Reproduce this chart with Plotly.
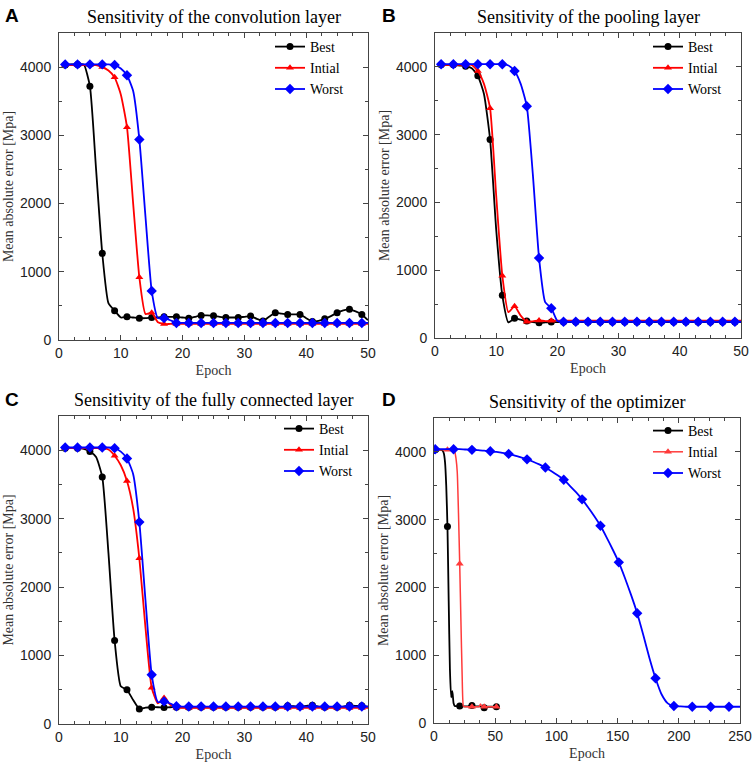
import plotly.graph_objs as go
from plotly.subplots import make_subplots

epochs = list(range(1, 51))

conv_best = [4030, 4040, 4040, 4040, 3720, 2500, 1270, 540, 430, 330,
             340, 330, 320, 320, 330, 330, 340, 340, 340, 330,
             320, 340, 360, 360, 355, 340, 330, 330, 330, 340,
             350, 310, 280, 340, 400, 385, 375, 375, 375, 320,
             270, 280, 310, 350, 400, 435, 450, 420, 375, 290]
conv_initial = [4030, 4030, 4030, 4030, 4030, 4030, 4000, 3950, 3850, 3600,
                3120, 2000, 920, 380, 400, 260, 235, 235, 235, 235,
                235, 235, 235, 235, 235, 235, 235, 235, 235, 235,
                235, 235, 235, 235, 235, 235, 235, 235, 235, 235,
                235, 235, 235, 235, 235, 235, 235, 235, 235, 235]
conv_worst = [4040, 4040, 4040, 4040, 4040, 4040, 4040, 4040, 4030, 3980,
              3880, 3650, 2940, 1800, 720, 320, 320, 290, 250, 250,
              250, 250, 250, 250, 250, 250, 250, 250, 250, 250,
              250, 250, 250, 250, 250, 250, 250, 250, 250, 250,
              250, 250, 250, 250, 250, 250, 250, 250, 250, 250]

pool_best = [4030, 4030, 4030, 4020, 4010, 3980, 3870, 3600, 2930, 1600,
             630, 230, 290, 270, 250, 235, 225, 230, 235, 235,
             235, 235, 235, 235, 235, 235, 235, 235, 235, 235,
             235, 235, 235, 235, 235, 235, 235, 235, 235, 235,
             235, 235, 235, 235, 235, 235, 235, 235, 235, 235]
pool_initial = [4030, 4030, 4030, 4030, 4030, 4030, 3940, 3750, 3390, 2100,
                920, 380, 470, 330, 240, 245, 260, 250, 255, 255,
                255, 255, 255, 255, 255, 255, 255, 255, 255, 255,
                255, 255, 255, 255, 255, 255, 255, 255, 255, 255,
                255, 255, 255, 255, 255, 255, 255, 255, 255, 255]
pool_worst = [4040, 4040, 4040, 4040, 4040, 4040, 4040, 4040, 4040, 4040,
              4040, 4020, 3940, 3750, 3420, 2400, 1180, 530, 440, 250,
              240, 240, 240, 240, 240, 240, 240, 240, 240, 240,
              240, 240, 240, 240, 240, 240, 240, 240, 240, 240,
              240, 240, 240, 240, 240, 240, 240, 240, 240, 240]

fc_best = [4030, 4030, 4030, 4020, 3980, 3900, 3610, 2500, 1220, 550,
           500, 350, 220, 240, 245, 245, 240, 245, 245, 245,
           245, 245, 245, 245, 245, 245, 245, 245, 245, 245,
           245, 245, 245, 245, 245, 245, 265, 260, 255, 265,
           275, 255, 245, 245, 245, 255, 275, 265, 265, 255]
fc_initial = [4030, 4030, 4030, 4030, 4030, 4030, 4030, 4010, 3920, 3780,
              3550, 3150, 2420, 1400, 530, 300, 380, 280, 240, 235,
              235, 235, 235, 235, 235, 235, 235, 235, 235, 235,
              235, 235, 235, 235, 235, 235, 235, 235, 235, 235,
              235, 235, 235, 235, 235, 235, 235, 235, 235, 235]
fc_worst = [4040, 4040, 4040, 4040, 4040, 4040, 4040, 4040, 4030, 3980,
            3880, 3650, 2950, 1800, 720, 320, 330, 300, 260, 255,
            255, 255, 255, 255, 255, 255, 255, 255, 255, 255,
            255, 255, 255, 255, 255, 255, 255, 255, 255, 255,
            255, 255, 255, 255, 255, 255, 255, 255, 255, 255]

opt_epochs = list(range(1, 52))
opt_best = [4030, 4030, 4030, 4030, 4030, 4030, 4020, 3980, 3850, 3500,
            2900, 1800, 800, 380, 470, 290, 250, 250, 250, 250,
            250, 245, 245, 245, 245, 245, 245, 245, 255, 265,
            260, 245, 245, 245, 245, 245, 245, 245, 245, 245,
            225, 240, 240, 240, 240, 240, 240, 240, 240, 240, 240]
opt_initial = [4030, 4030, 4030, 4030, 4030, 4030, 4030, 4030, 4030, 4030,
               4030, 4030, 4030, 4030, 4030, 4030, 4000, 3900, 3700, 3100,
               2350, 1500, 700, 250, 240, 240, 240, 240, 240, 240,
               240, 240, 240, 240, 240, 240, 240, 280, 250, 240,
               240, 240, 240, 240, 240, 240, 240, 240, 240, 240, 240]
opt_worst_epochs = list(range(1, 250, 5)) + [250]
opt_worst = [4040, 4040, 4040, 4040, 4040, 4035, 4030, 4025, 4020, 4010,
             4000, 3985, 3970, 3945, 3920, 3890, 3855, 3815, 3770, 3715,
             3655, 3590, 3500, 3405, 3300, 3180, 3050, 2910, 2740, 2560,
             2370, 2140, 1890, 1620, 1300, 960, 660, 420, 290, 250,
             245, 240, 240, 240, 240, 240, 240, 240, 240, 240, 240]

titles = ["Sensitivity of the convolution layer", "Sensitivity of the pooling layer",
          "Sensitivity of the fully connected layer", "Sensitivity of the optimizer"]
letters = ["A", "B", "C", "D"]
names = ["Best", "Intial", "Worst"]

W, H = 754, 767
serif = "Liberation Serif"
sans = "Liberation Sans"


def add_series(fig, x, y, step, name, color, symbol, size, width, row, col, legend_name):
    fig.add_trace(go.Scatter(x=x, y=y, mode="lines", showlegend=False, hoverinfo="skip",
                             line=dict(color=color, width=width, shape="spline", smoothing=0.5)),
                  row=row, col=col)
    fig.add_trace(go.Scatter(x=x[::step], y=y[::step], mode="markers", showlegend=False,
                             marker=dict(color=color, symbol=symbol, size=size)),
                  row=row, col=col)
    fig.add_trace(go.Scatter(x=[None], y=[None], mode="lines+markers", name=name, legend=legend_name,
                             line=dict(color=color, width=width),
                             marker=dict(color=color, symbol=symbol, size=size)),
                  row=row, col=col)


fig = make_subplots(rows=2, cols=2)

panels = [
    (1, 1, epochs, [conv_best, conv_initial, conv_worst], "legend"),
    (1, 2, epochs, [pool_best, pool_initial, pool_worst], "legend2"),
    (2, 1, epochs, [fc_best, fc_initial, fc_worst], "legend3"),
]
colors = ["black", "#ff0000", "#0000ff"]
symbols = ["circle", "triangle-up", "diamond"]
sizes = [7, 7, 8]

for row, col, xs, series, lg in panels:
    for i in range(3):
        add_series(fig, xs, series[i], 2, names[i], colors[i], symbols[i], sizes[i], 1.8, row, col, lg)

add_series(fig, opt_epochs, opt_best, 10, "Best", "black", "circle", 7, 1.8, 2, 2, "legend4")
add_series(fig, opt_epochs, opt_initial, 10, "Intial", "#ff3b3b", "triangle-up", 7, 1.5, 2, 2, "legend4")
add_series(fig, opt_worst_epochs, opt_worst, 3, "Worst", "#0000ff", "diamond", 8, 1.8, 2, 2, "legend4")

# plot areas in pixels: left, right, top, bottom
boxes = [(59, 368, 33, 340), (435, 741, 33, 338), (59, 368, 416, 724), (434, 740, 418, 723)]
legend_pos = [(270, 31), (648, 31), (279, 413), (648, 415)]
letter_pos = [(3, 3), (380, 3), (3, 387), (380, 387)]

axis_common = dict(showline=True, linecolor="#444", linewidth=1, mirror="allticks", ticks="inside",
                   ticklen=5, tickcolor="#444", showgrid=False, zeroline=False, automargin=False,
                   tickfont=dict(family=sans, size=14, color="#222"))

for k in range(4):
    l, r, t, b = boxes[k]
    xn = "xaxis" if k == 0 else "xaxis%d" % (k + 1)
    yn = "yaxis" if k == 0 else "yaxis%d" % (k + 1)
    xmax = 250 if k == 3 else 50
    fig.layout[xn].update(domain=[l / W, r / W], range=[0, xmax], dtick=xmax / 5, tick0=0,
                          minor=dict(dtick=xmax / 20, ticks="inside", ticklen=3, tickcolor="#444"),
                          title=dict(text="Epoch", font=dict(family=serif, size=14, color="#333"), standoff=5),
                          **axis_common)
    fig.layout[yn].update(domain=[1 - b / H, 1 - t / H], range=[0, 4500], dtick=1000, tick0=0,
                          ticklabelstandoff=4,
                          minor=dict(dtick=500, ticks="inside", ticklen=3, tickcolor="#444"),
                          title=dict(text="Mean absolute error [Mpa]", font=dict(family=serif, size=14, color="#333"),
                                     standoff=3),
                          **axis_common)
    xr = "x" if k == 0 else "x%d" % (k + 1)
    yr = "y" if k == 0 else "y%d" % (k + 1)
    fig.add_annotation(text=titles[k], xref=xr + " domain", yref=yr + " domain", x=0.5, y=1,
                       yanchor="middle", yshift=16, showarrow=False,
                       font=dict(family=serif, size=18, color="black"))
    px, py = letter_pos[k]
    fig.add_annotation(text="<b>" + letters[k] + "</b>", xref="paper", yref="paper",
                       x=px / W, y=1 - py / H,
                       xanchor="left", yanchor="top", showarrow=False,
                       font=dict(family=sans, size=19, color="black"))
    lg = "legend" if k == 0 else "legend%d" % (k + 1)
    lx, ly = legend_pos[k]
    fig.layout[lg] = dict(x=lx / W, y=1 - ly / H, xanchor="left", yanchor="top",
                          xref="paper", yref="paper",
                          bgcolor="rgba(0,0,0,0)", font=dict(family=serif, size=14, color="black"),
                          itemwidth=30, tracegroupgap=0)

fig.update_layout(width=W, height=H, margin=dict(l=0, r=0, t=0, b=0),
                  plot_bgcolor="white", paper_bgcolor="white")

# drop the page's default body margin so the figure sits at the window's corner
fig.write_html("out.html", config={"displayModeBar": False},
               post_script="document.body.style.margin='0';document.body.style.overflow='hidden';")
